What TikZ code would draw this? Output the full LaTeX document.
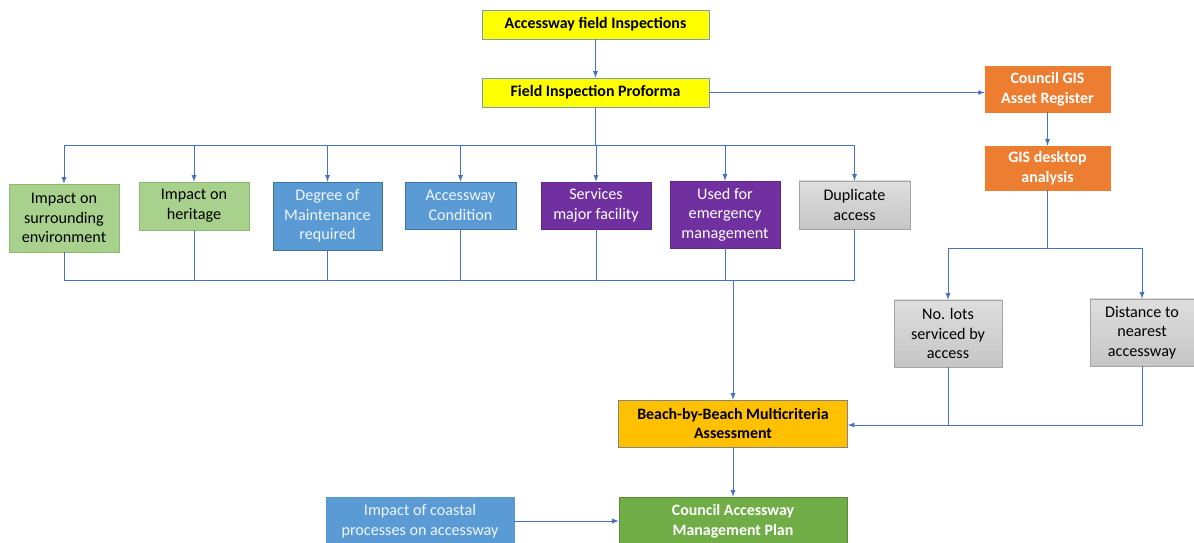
\documentclass[tikz,border=0pt]{standalone}
\usepackage{fontspec}
\setmainfont{Carlito}
\usepackage{tikz}
\usetikzlibrary{positioning}

\definecolor{linkblue}{HTML}{4472C4}
\definecolor{fieldyellow}{HTML}{FFFF00}
\definecolor{gisorange}{HTML}{ED7D31}
\definecolor{envgreen}{HTML}{A9D18E}
\definecolor{envedge}{HTML}{8DB96F}
\definecolor{condblue}{HTML}{5B9BD5}
\definecolor{condedge}{HTML}{41719C}
\definecolor{usepurple}{HTML}{7030A0}
\definecolor{usedge}{HTML}{5F2888}
\definecolor{dupgrey}{HTML}{D0D0D0}
\definecolor{dupedge}{HTML}{A5A5A5}
\definecolor{assessgold}{HTML}{FFC000}
\definecolor{plangreen}{HTML}{70AD47}

\begin{document}
\begin{tikzpicture}
    [
    x=0.025cm,y=-0.025cm,
    box/.style={rectangle,draw,inner sep=1pt,align=center,font=\fontsize{11.5}{14}\selectfont},
    keybox/.style={box,font=\fontsize{11.3}{14}\selectfont\bfseries},
    field/.style={keybox,fill=fieldyellow,draw=condedge!70,text=black},
    gis/.style={keybox,fill=gisorange,draw=gisorange,text=white},
    env/.style={box,fill=envgreen,draw=envedge,text=black},
    cond/.style={box,fill=condblue,draw=condedge,text=white!90!condblue},
    use/.style={box,fill=usepurple,draw=usedge,text=white},
    dup/.style={box,top color=dupgrey!70,bottom color=dupgrey!95!black,draw=dupedge,text=black},
    link/.style={draw=linkblue,line width=0.6pt},
    ]
    \useasboundingbox (0,0) rectangle (1194,543);

    % inspections
    \node (afi) at (595.5,24.5) [field,minimum width=5.675cm,minimum height=0.725cm] {Accessway field Inspections};
    \node (fip) at (595.5,92.5) [field,minimum width=5.675cm,minimum height=0.725cm] {Field Inspection Proforma};

    % gis branch
    \node (reg) at (1047.5,89) [gis,minimum width=3.125cm,minimum height=1.15cm] {Council GIS\\Asset Register};
    \node (gda) at (1047.5,168) [gis,minimum width=3.125cm,minimum height=1.1cm] {GIS desktop\\analysis};
    \node (lots) at (948,333.5) [dup,minimum width=2.7cm,minimum height=1.675cm] {No. lots\\serviced by\\access};
    \node (dist) at (1142,332.5) [dup,minimum width=2.6cm,minimum height=1.675cm] {Distance to\\nearest\\accessway};

    % criteria
    \node (c1) at (64,218) [env,minimum width=2.75cm,minimum height=1.7cm] {Impact on\\surrounding\\environment};
    \node (c2) at (194,206) [env,minimum width=2.75cm,minimum height=1.2cm] {Impact on\\heritage};
    \node (c3) at (327.5,216) [cond,minimum width=2.725cm,minimum height=1.7cm] {Degree of\\Maintenance\\required};
    \node (c4) at (460.5,205.5) [cond,minimum width=2.775cm,minimum height=1.175cm] {Accessway\\Condition};
    \node (c5) at (596,205.5) [use,minimum width=2.75cm,minimum height=1.175cm] {Services\\major facility};
    \node (c6) at (725,214.5) [use,minimum width=2.75cm,minimum height=1.675cm] {Used for\\emergency\\management};
    \node (c7) at (854.5,205) [dup,minimum width=2.775cm,minimum height=1.2cm] {Duplicate\\access};

    % outcome
    \node (bbm) at (733,423.5) [keybox,fill=assessgold,draw=dupedge!80!black,minimum width=5.725cm,minimum height=1.175cm] {Beach-by-Beach Multicriteria\\Assessment};
    \node (camp) at (733,521) [keybox,fill=plangreen,draw=plangreen!80!black,text=white,minimum width=5.7cm,minimum height=1.2cm] {Council Accessway\\Management Plan};
    \node (coast) at (420,521) [box,fill=condblue,draw=condblue,text=white!90!condblue,minimum width=4.7cm,minimum height=1.2cm] {Impact of coastal\\processes on accessway};

    \coordinate (top) at (595.5,145);
    \coordinate (bot) at (733,280);
    \coordinate (fork) at (1047.5,248);
    \coordinate (join) at (948,425);

    \draw [link,-latex] (afi) to (fip);
    \draw [link,-latex] (fip.east) to (fip.east -| reg.west);
    \draw [link,-latex] (reg) to (gda);
    \draw [link] (fip) to (top);
    \draw [link,-latex] (top) -| (c1);
    \draw [link,-latex] (top) -| (c2);
    \draw [link,-latex] (top) -| (c3);
    \draw [link,-latex] (top) -| (c4);
    \draw [link,-latex] (top) -| (c5);
    \draw [link,-latex] (top) -| (c6);
    \draw [link,-latex] (top) -| (c7);
    \draw [link] (c1) |- (bot);
    \draw [link] (c2) |- (bot);
    \draw [link] (c3) |- (bot);
    \draw [link] (c4) |- (bot);
    \draw [link] (c5) |- (bot);
    \draw [link] (c6) |- (bot);
    \draw [link] (c7) |- (bot);
    \draw [link,-latex] (bot) to (bbm);
    \draw [link] (gda) to (fork);
    \draw [link,-latex] (fork) -| (lots);
    \draw [link,-latex] (fork) -| (dist);
    \draw [link] (lots) to (join);
    \draw [link] (dist) |- (join);
    \draw [link,-latex] (join) to (join -| bbm.east);
    \draw [link,-latex] (bbm) to (camp);
    \draw [link,-latex] (coast) to (camp);
  \end{tikzpicture}
\end{document}
